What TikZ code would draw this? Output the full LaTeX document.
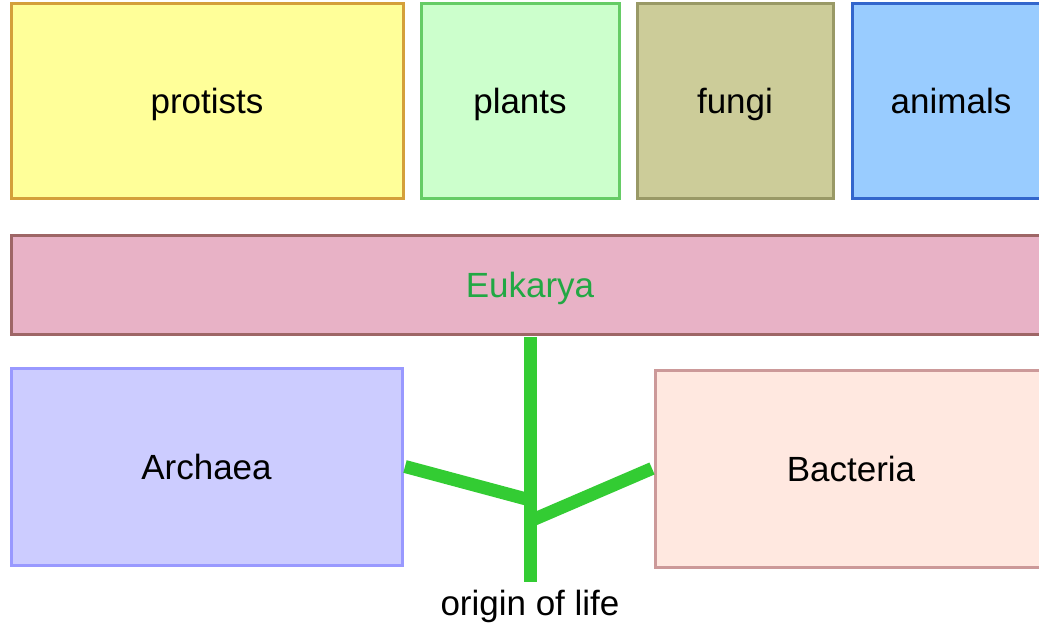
\documentclass[tikz,border=0pt]{standalone}
\usepackage{fontspec}
\setmainfont{Liberation Sans}
\definecolor{protfill}{HTML}{FFFF99}
\definecolor{protdraw}{HTML}{D4A03A}
\definecolor{plantfill}{HTML}{CCFFCC}
\definecolor{plantdraw}{HTML}{66CC66}
\definecolor{fungfill}{HTML}{CCCC99}
\definecolor{fungdraw}{HTML}{999966}
\definecolor{animfill}{HTML}{99CCFF}
\definecolor{animdraw}{HTML}{3366CC}
\definecolor{eukfill}{HTML}{E8B2C6}
\definecolor{eukdraw}{HTML}{9E6666}
\definecolor{euktext}{HTML}{22A844}
\definecolor{archfill}{HTML}{CCCCFF}
\definecolor{archdraw}{HTML}{9999FF}
\definecolor{bactfill}{HTML}{FFE8E0}
\definecolor{bactdraw}{HTML}{CC9999}
\definecolor{branch}{HTML}{33CC33}
\tikzset{
  box/.style={rectangle, line width=3pt, inner sep=0pt, font=\fontsize{35}{42}\selectfont,
    text=black, text height=25pt, text depth=0pt},
  twig/.style={draw=branch, line width=13pt}
}
\begin{document}
\begin{tikzpicture}[x=1pt,y=-1pt]
\clip (0,0) rectangle (1039,626);
\fill[white] (0,0) rectangle (1039,626);
\node[box, fill=protfill, draw=protdraw, minimum width=392pt, minimum height=194pt] (protists) at (207,101) {protists};
\node[box, fill=plantfill, draw=plantdraw, minimum width=198pt, minimum height=194pt] (plants) at (520,101) {plants};
\node[box, fill=fungfill, draw=fungdraw, minimum width=196pt, minimum height=194pt] (fungi) at (735,101) {fungi};
\node[box, fill=animfill, draw=animdraw, minimum width=198pt, minimum height=194pt] (animals) at (951,101) {animals};
\node[box, fill=eukfill, draw=eukdraw, text=euktext, minimum width=1038pt, minimum height=99pt] (eukarya) at (530,284.5) {Eukarya};
\node[box, fill=archfill, draw=archdraw, minimum width=391pt, minimum height=197pt] (archaea) at (206.5,466.5) {Archaea};
\node[box, fill=bactfill, draw=bactdraw, minimum width=392pt, minimum height=197pt] (bacteria) at (851,468.5) {Bacteria};
\coordinate (j1) at (530,500);
\coordinate (j2) at (530,521);
\coordinate (root) at (530,582);
\node[font=\fontsize{35}{42}\selectfont, inner sep=0pt, anchor=base] (origin) at (530,615) {origin of life};
\draw[twig] ([yshift=-1.5pt]eukarya.south) -- (root);
\draw[twig] ([xshift=1.5pt]archaea.east) -- (j1);
\draw[twig] ([xshift=-1.5pt]bacteria.west) -- (j2);
\end{tikzpicture}
\end{document}
